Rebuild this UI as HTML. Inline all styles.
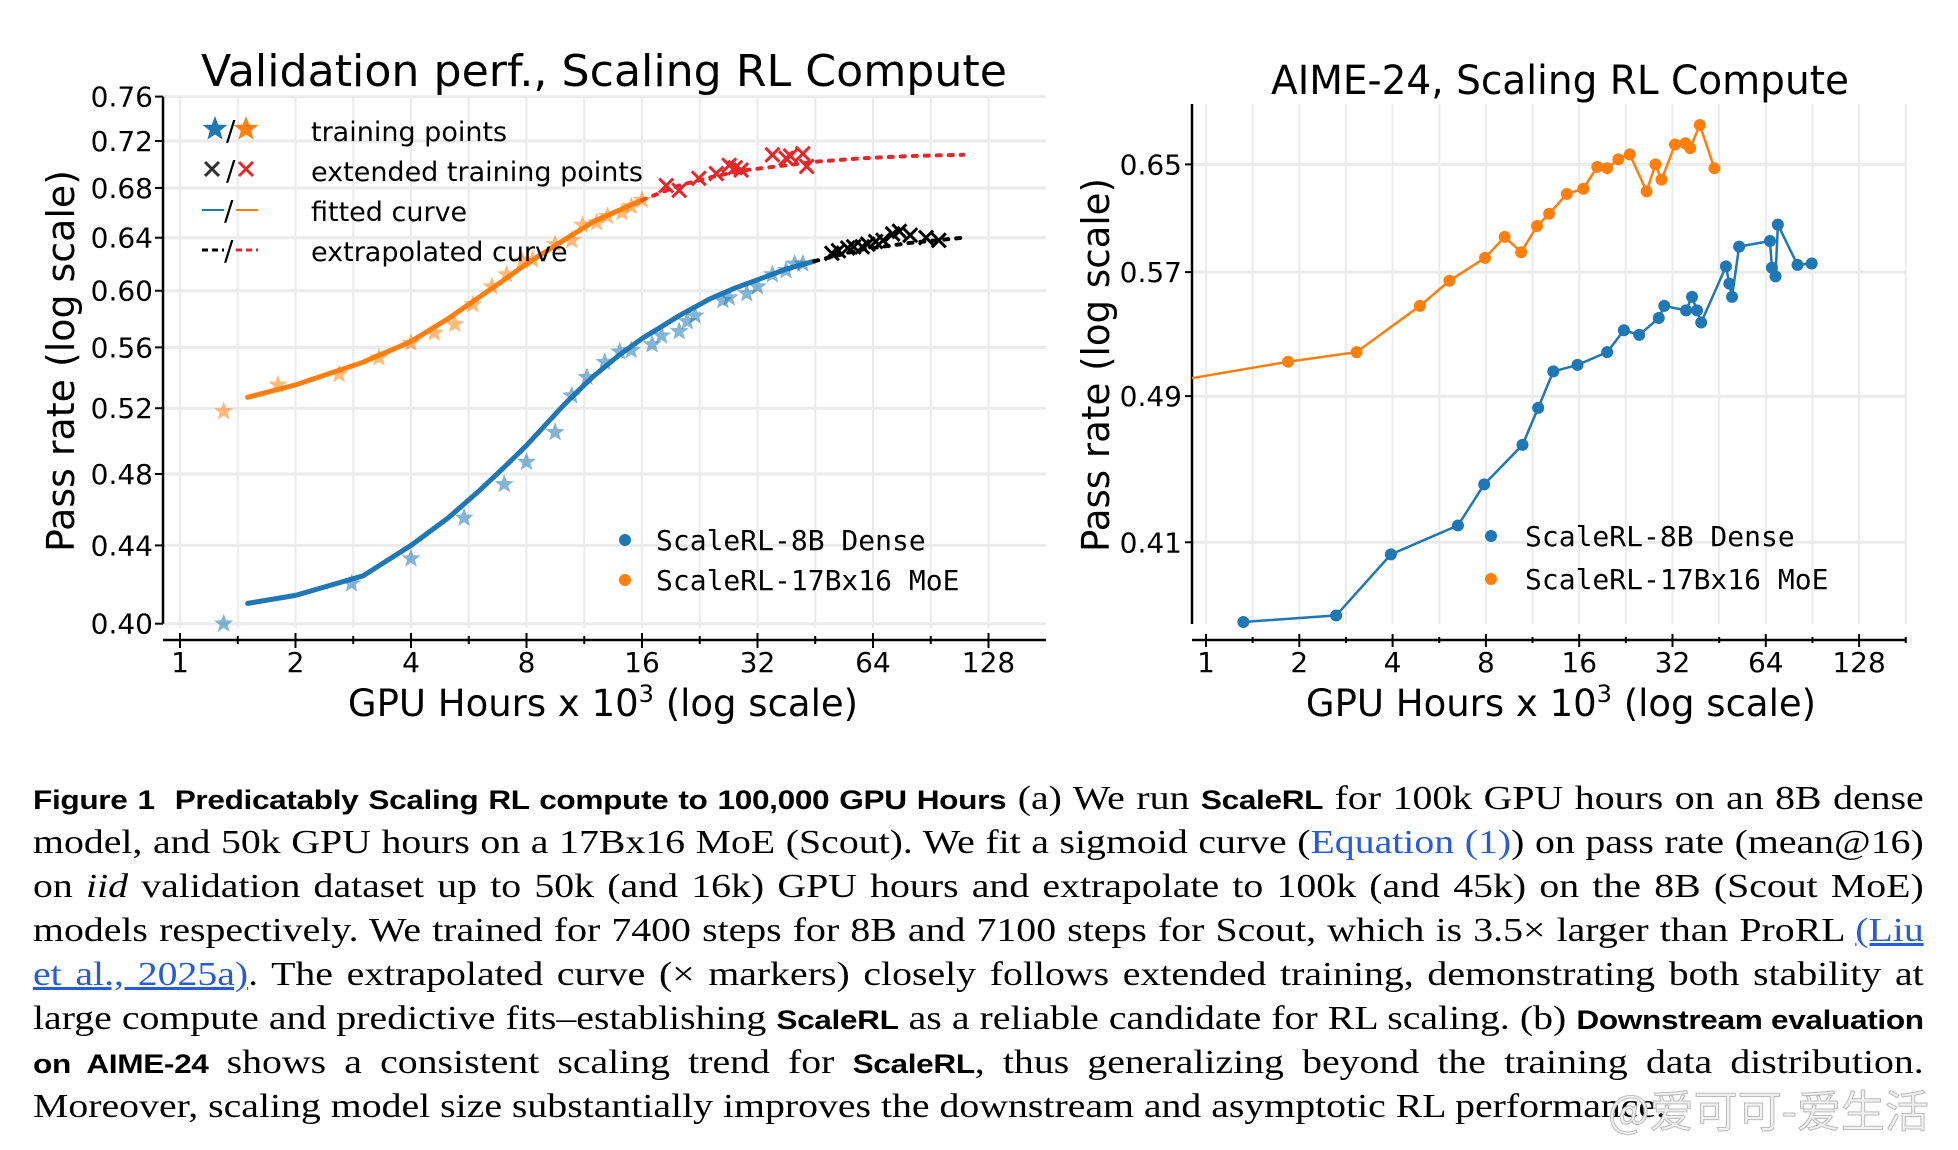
<!DOCTYPE html>
<html><head><meta charset="utf-8">
<style>
html,body{margin:0;padding:0;background:#fff;}
body{width:1958px;height:1150px;position:relative;overflow:hidden;}
svg{position:absolute;left:0;top:0;}
.cap{position:absolute;left:33px;width:1616px;transform:scaleX(1.17);transform-origin:0 0;font-family:"Liberation Serif",serif;font-size:34px;line-height:44px;white-space:nowrap;color:#000;}
.cap .j{text-align:justify;text-align-last:justify;white-space:normal;height:44px;overflow:hidden;}
.b{font-family:"Liberation Sans",sans-serif;font-weight:bold;font-size:27px;letter-spacing:-0.3px;}
.lnk{color:#2a5bd7;}
.u{text-decoration:underline;}
.wm{position:absolute;left:1608px;top:1076px;font-family:"Noto Sans CJK SC",sans-serif;font-size:44px;color:#f2f2f2;-webkit-text-stroke:1px #bbb;white-space:nowrap;}
</style></head>
<body>
<svg id="chart" width="1958" height="760" font-family="DejaVu Sans, Liberation Sans, sans-serif">
<defs>
<clipPath id="clipL"><rect x="163" y="60" width="890" height="575"/></clipPath>
<clipPath id="clipR"><rect x="1192" y="60" width="720" height="575"/></clipPath>
</defs>
<g id="left"></g>
<g id="right"></g>
</svg>

<div class="cap" style="top:777px;">
<div class="j"><span class="b">Figure 1&nbsp; Predicatably Scaling RL compute to 100,000 GPU Hours</span> (a) We run <span class="b">ScaleRL</span> for 100k GPU hours on an 8B dense</div>
<div class="j">model, and 50k GPU hours on a 17Bx16 MoE (Scout). We fit a sigmoid curve (<span class="lnk">Equation (1)</span>) on pass rate (mean@16)</div>
<div class="j">on <i>iid</i> validation dataset up to 50k (and 16k) GPU hours and extrapolate to 100k (and 45k) on the 8B (Scout MoE)</div>
<div class="j">models respectively. We trained for 7400 steps for 8B and 7100 steps for Scout, which is 3.5× larger than ProRL <span class="lnk u">(Liu</span></div>
<div class="j"><span class="lnk u">et al., 2025a)</span>. The extrapolated curve (× markers) closely follows extended training, demonstrating both stability at</div>
<div class="j">large compute and predictive fits–establishing <span class="b">ScaleRL</span> as a reliable candidate for RL scaling. (b) <span class="b">Downstream evaluation</span></div>
<div class="j"><span class="b">on AIME-24</span> shows a consistent scaling trend for <span class="b">ScaleRL</span>, thus generalizing beyond the training data distribution.</div>
<div>Moreover, scaling model size substantially improves the downstream and asymptotic RL performance.</div>
</div>
<div class="wm">@爱可可-爱生活</div>

<script>
// ---- Left chart data ----
const blueStarX = [1.3,2.8,4.0,5.5,7.0,8.0,9.5,10.5,11.5,12.8,14,15,17,18,20,21,22,26,27,30,32,35,38,40,42];
const blueStarY = [0.40,0.42,0.433,0.455,0.474,0.487,0.505,0.528,0.54,0.55,0.557,0.558,0.562,0.568,0.571,0.578,0.582,0.593,0.595,0.598,0.603,0.612,0.615,0.62,0.62];
const blueFitX = [1.5,2,3,4,5,6,7,8,9,10,11,12,14,16,20,24,28,32,38,45];
const blueFitY = [0.41,0.414,0.424,0.44,0.455,0.47,0.484,0.497,0.51,0.522,0.532,0.541,0.555,0.566,0.582,0.594,0.602,0.608,0.616,0.622];
const blackExtX = [45,60,80,110];
const blackExtY = [0.622,0.631,0.636,0.64];
const blackXX = [50,52,55,57,60,62,65,68,72,75,80,88,95];
const blackXY = [0.628,0.63,0.632,0.633,0.633,0.635,0.637,0.638,0.643,0.645,0.642,0.64,0.638];
const orangeStarX = [1.3,1.8,2.6,3.3,4.0,4.6,5.2,5.8,6.5,7.1,7.8,8.3,9.5,10.5,11.2,12.2,13,14.2,15,16];
const orangeStarY = [0.518,0.535,0.542,0.553,0.563,0.57,0.576,0.59,0.603,0.612,0.622,0.623,0.635,0.638,0.65,0.652,0.657,0.66,0.665,0.67];
const orangeFitX = [1.5,2,3,4,5,6,7,8,10,12,14,16];
const orangeFitY = [0.527,0.535,0.55,0.564,0.58,0.595,0.608,0.62,0.638,0.653,0.662,0.67];
const redExtX = [16,20,25,30,38,45,60,80,110];
const redExtY = [0.67,0.682,0.69,0.695,0.699,0.702,0.705,0.707,0.708];
const redXX = [18.5,20,22.5,25,27,28,29,35,38,39,42,43];
const redXY = [0.682,0.678,0.688,0.692,0.699,0.697,0.695,0.708,0.705,0.707,0.709,0.698];
const leftYTicks = [0.40,0.44,0.48,0.52,0.56,0.60,0.64,0.68,0.72,0.76];
const xTicks = [1,2,4,8,16,32,64,128];

// ---- Right chart data ----
const aimeBlueX = [1.32,2.63,3.95,6.5,7.9,10.5,11.8,13.2,15.8,19.7,22.3,25,28.9,30.1,35.4,37,38.4,39.6,47.6,48.8,49.8,52.5,66,67,68.8,70,81,90];
const aimeBlueY = [0.372,0.375,0.404,0.4185,0.44,0.4617,0.483,0.505,0.509,0.517,0.531,0.528,0.539,0.547,0.544,0.553,0.544,0.536,0.574,0.562,0.553,0.588,0.592,0.573,0.567,0.604,0.575,0.576];
const aimeOrangeX = [0.85,1.84,3.06,4.9,6.1,7.95,9.2,10.4,11.7,12.8,14.6,16.5,18.3,19.7,21.4,23.3,26.4,28.2,29.5,32.6,35.2,36.5,39.2,43.7];
const aimeOrangeY = [0.500,0.511,0.517,0.547,0.564,0.580,0.595,0.584,0.603,0.612,0.627,0.631,0.648,0.647,0.654,0.658,0.629,0.650,0.638,0.666,0.667,0.663,0.682,0.647];
const rightYTicks = [0.41,0.49,0.57,0.65];

const NS = "http://www.w3.org/2000/svg";
const BLUE="#1f77b4", ORANGE="#ff7f0e", RED="#e8262a";
function mk(tag, attrs, parent){
  const e=document.createElementNS(NS,tag);
  for(const k in attrs) e.setAttribute(k,attrs[k]);
  parent.appendChild(e); return e;
}
// axis functions
const lx = v => 180 + Math.log2(v)*115.5;
const ly = v => 96.6 + (Math.log(0.76) - Math.log(v))*821.2;
const rx = v => 1206 + Math.log2(v)*93.3;
const ry = v => 164.4 + (Math.log(0.65) - Math.log(v))*820;

function starPts(cx,cy,R){
  const r=R*0.42, p=[];
  for(let i=0;i<10;i++){const a=-Math.PI/2+i*Math.PI/5, rr=i%2?r:R; p.push((cx+rr*Math.cos(a)).toFixed(1)+","+(cy+rr*Math.sin(a)).toFixed(1));}
  return p.join(" ");
}
function poly(xs,ys,fx,fy){return xs.map((x,i)=>fx(x).toFixed(1)+","+fy(ys[i]).toFixed(1)).join(" ");}

// ===== LEFT =====
const L=document.getElementById('left');
const gridL=mk('g',{},L);


for(let k=0;k<=14;k++){const x=180+k*57.75; mk('line',{x1:x,x2:x,y1:96,y2:628,stroke:'#ebebeb','stroke-width':2},gridL);}
leftYTicks.forEach(t=>{mk('line',{x1:163,x2:1046,y1:ly(t),y2:ly(t),stroke:'#ebebeb','stroke-width':3},gridL);});
const sp=mk('line',{x1:163,x2:163,y1:ly(0.76),y2:ly(0.40),stroke:'#000','stroke-width':2.5},L);


const bx=mk('line',{x1:163,x2:1046,y1:640,y2:640,stroke:'#000','stroke-width':2.5},L);


leftYTicks.forEach(t=>{
  mk('line',{x1:155,x2:163,y1:ly(t),y2:ly(t),stroke:'#000','stroke-width':2},L);
  const tx=mk('text',{x:153,y:ly(t)+10,'text-anchor':'end','font-size':28},L);
  tx.textContent=t.toFixed(2);
  
  
});
for(let k=0;k<=15;k++){const x=180+k*57.75; if(x>1046)break; mk('line',{x1:x,x2:x,y1:k%2?636:633,y2:k%2?644:648,stroke:'#000','stroke-width':2},L);}
xTicks.forEach(t=>{
  const tx=mk('text',{x:lx(t),y:672,'text-anchor':'middle','font-size':28},L);
  tx.textContent=String(t);
  
  
});
let t=mk('text',{x:604,y:86,'text-anchor':'middle','font-size':44,textLength:806,lengthAdjust:'spacingAndGlyphs'},L);
t.textContent='Validation perf., Scaling RL Compute';


t=mk('text',{x:0,y:0,'text-anchor':'middle','font-size':38,textLength:382,lengthAdjust:'spacingAndGlyphs',transform:'translate(74,361) rotate(-90)'},L);
t.textContent='Pass rate (log scale)';


t=mk('text',{x:603,y:716,'text-anchor':'middle','font-size':37},L);
t.innerHTML='GPU Hours x 10<tspan dy="-14" font-size="24">3</tspan><tspan dy="14"> (log scale)</tspan>';



const plotL=mk('g',{'clip-path':'url(#clipL)'},L);
let p=mk('polyline',{points:poly(orangeFitX,orangeFitY,lx,ly),fill:'none',stroke:ORANGE,'stroke-width':5,'stroke-linecap':'round'},plotL);


p=mk('polyline',{points:poly(blueFitX,blueFitY,lx,ly),fill:'none',stroke:BLUE,'stroke-width':5,'stroke-linecap':'round'},plotL);


p=mk('polyline',{points:poly(redExtX,redExtY,lx,ly),fill:'none',stroke:RED,'stroke-width':4,'stroke-dasharray':'4 8','stroke-linecap':'round'},plotL);


p=mk('polyline',{points:poly(blackExtX,blackExtY,lx,ly),fill:'none',stroke:'#000','stroke-width':4,'stroke-dasharray':'4 8','stroke-linecap':'round'},plotL);


blueStarX.forEach((x,i)=>{
  const s=mk('polygon',{points:starPts(lx(x),ly(blueStarY[i]),10),fill:BLUE,'fill-opacity':0.55},plotL);
  
  
});
orangeStarX.forEach((x,i)=>{
  const s=mk('polygon',{points:starPts(lx(x),ly(orangeStarY[i]),10),fill:ORANGE,'fill-opacity':0.55},plotL);
  
  
});
function cross(cx,cy,col,name,par){
  const g=mk('g',{stroke:col,'stroke-width':3},par);
  
  
  mk('line',{x1:cx-7,y1:cy-7,x2:cx+7,y2:cy+7},g);
  mk('line',{x1:cx-7,y1:cy+7,x2:cx+7,y2:cy-7},g);
}
blackXX.forEach((x,i)=>cross(lx(x),ly(blackXY[i]),'#000','black-extended-point',plotL));
redXX.forEach((x,i)=>cross(lx(x),ly(redXY[i]),RED,'red-extended-point',plotL));

// legend 1
const lg=mk('g',{'font-size':27},L);


mk('polygon',{points:starPts(215,129,13),fill:BLUE},lg);
mk('text',{x:226,y:140,'font-size':28},lg).textContent='/';
mk('polygon',{points:starPts(246,129,13),fill:ORANGE},lg);
cross(212,169,'#333','legend-black-x',lg);
mk('text',{x:226,y:180,'font-size':28},lg).textContent='/';
cross(246,169,RED,'legend-red-x',lg);
mk('line',{x1:202,x2:224,y1:210,y2:210,stroke:BLUE,'stroke-width':2},lg);
mk('text',{x:224,y:220,'font-size':28},lg).textContent='/';
mk('line',{x1:236,x2:258,y1:210,y2:210,stroke:ORANGE,'stroke-width':2},lg);
mk('line',{x1:202,x2:224,y1:250,y2:250,stroke:'#000','stroke-width':3,'stroke-dasharray':'6 4'},lg);
mk('text',{x:224,y:260,'font-size':28},lg).textContent='/';
mk('line',{x1:236,x2:258,y1:250,y2:250,stroke:RED,'stroke-width':3,'stroke-dasharray':'6 4'},lg);
['training points','extended training points','fitted curve','extrapolated curve'].forEach((s,i)=>{
  const e=mk('text',{x:311,y:141+i*40},lg); e.textContent=s;
  
  
});
const lg2=mk('g',{'font-family':'DejaVu Sans Mono, Liberation Mono, monospace','font-size':28},L);


mk('circle',{cx:625,cy:540,r:6,fill:BLUE},lg2);
mk('text',{x:656,y:550},lg2).textContent='ScaleRL-8B Dense';
mk('circle',{cx:625,cy:580,r:6,fill:ORANGE},lg2);
mk('text',{x:656,y:590},lg2).textContent='ScaleRL-17Bx16 MoE';

// ===== RIGHT =====
const R=document.getElementById('right');
const gridR=mk('g',{},R);


for(let k=0;k<=15;k++){const x=1206+k*46.65; if(x>1906)break; mk('line',{x1:x,x2:x,y1:104,y2:624,stroke:'#ebebeb','stroke-width':2},gridR);}
rightYTicks.forEach(v=>mk('line',{x1:1192,x2:1905,y1:ry(v),y2:ry(v),stroke:'#ebebeb','stroke-width':3},gridR));
let a=mk('line',{x1:1192,x2:1192,y1:104,y2:624,stroke:'#000','stroke-width':2.5},R);


a=mk('line',{x1:1192,x2:1905,y1:640,y2:640,stroke:'#000','stroke-width':2.5},R);


rightYTicks.forEach(v=>{
  mk('line',{x1:1185,x2:1192,y1:ry(v),y2:ry(v),stroke:'#000','stroke-width':2},R);
  const e=mk('text',{x:1182,y:ry(v)+10,'text-anchor':'end','font-size':28},R);
  e.textContent=v.toFixed(2);
  
  
});
for(let k=0;k<=15;k++){const x=1206+k*46.65; if(x>1906)break; mk('line',{x1:x,x2:x,y1:k%2?637:634,y2:k%2?643:647,stroke:'#000','stroke-width':2},R);}
xTicks.forEach(v=>{
  const e=mk('text',{x:rx(v),y:672,'text-anchor':'middle','font-size':28},R);
  e.textContent=String(v);
  
  
});
t=mk('text',{x:1560,y:94,'text-anchor':'middle','font-size':40,textLength:578,lengthAdjust:'spacingAndGlyphs'},R);
t.textContent='AIME-24, Scaling RL Compute';


t=mk('text',{x:0,y:0,'text-anchor':'middle','font-size':38,textLength:374,lengthAdjust:'spacingAndGlyphs',transform:'translate(1109,365) rotate(-90)'},R);
t.textContent='Pass rate (log scale)';


t=mk('text',{x:1561,y:716,'text-anchor':'middle','font-size':37},R);
t.innerHTML='GPU Hours x 10<tspan dy="-14" font-size="24">3</tspan><tspan dy="14"> (log scale)</tspan>';



const plotR=mk('g',{'clip-path':'url(#clipR)'},R);
p=mk('polyline',{points:poly(aimeOrangeX,aimeOrangeY,rx,ry),fill:'none',stroke:ORANGE,'stroke-width':2.5},plotR);


p=mk('polyline',{points:poly(aimeBlueX,aimeBlueY,rx,ry),fill:'none',stroke:BLUE,'stroke-width':2.5},plotR);


aimeOrangeX.forEach((x,i)=>{
  const c=mk('circle',{cx:rx(x),cy:ry(aimeOrangeY[i]),r:6,fill:ORANGE},plotR);
  
  
});
aimeBlueX.forEach((x,i)=>{
  const c=mk('circle',{cx:rx(x),cy:ry(aimeBlueY[i]),r:6,fill:BLUE},plotR);
  
  
});
const lg3=mk('g',{'font-family':'DejaVu Sans Mono, Liberation Mono, monospace','font-size':28},R);


mk('circle',{cx:1491,cy:536,r:6,fill:BLUE},lg3);
mk('text',{x:1525,y:546},lg3).textContent='ScaleRL-8B Dense';
mk('circle',{cx:1491,cy:579,r:6,fill:ORANGE},lg3);
mk('text',{x:1525,y:589},lg3).textContent='ScaleRL-17Bx16 MoE';
</script>
</body></html>
